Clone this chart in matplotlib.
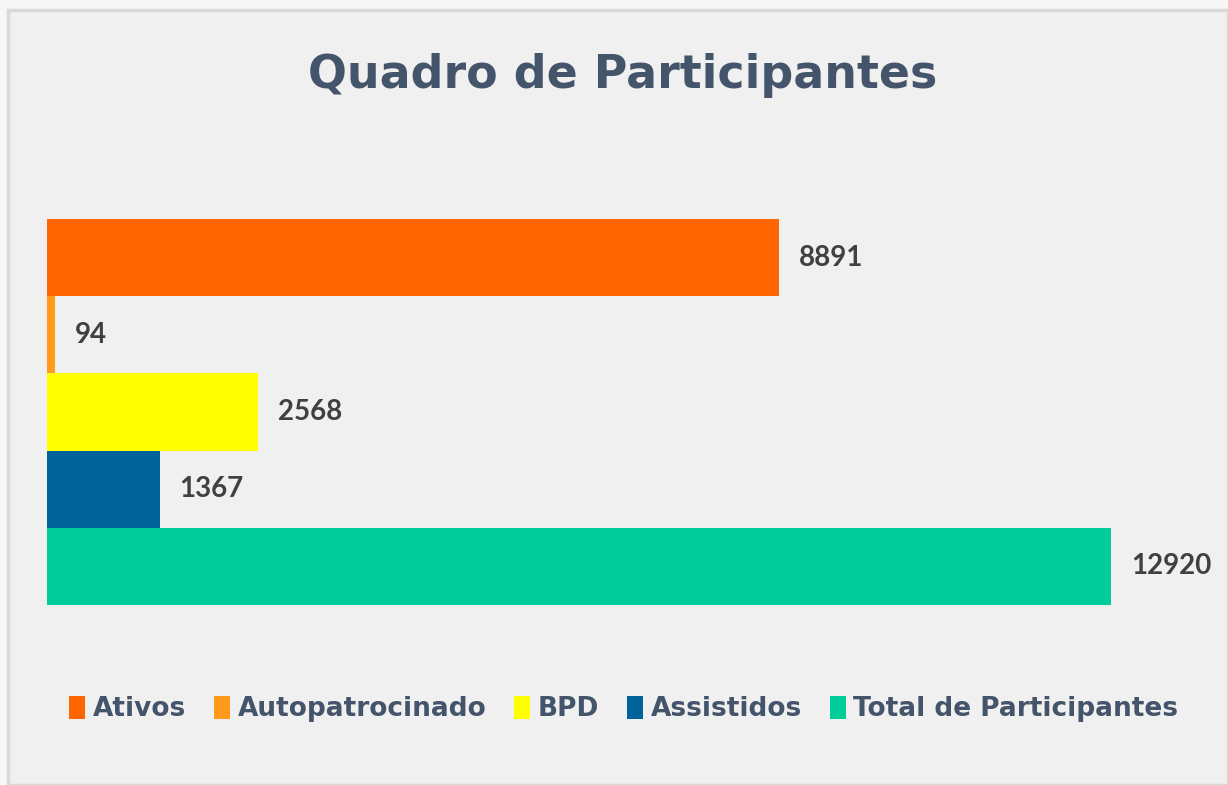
import matplotlib.pyplot as plt
from matplotlib.patches import Rectangle

# Dados do quadro
categorias = ['Ativos', 'Autopatrocinado', 'BPD', 'Assistidos', 'Total de Participantes']
valores = [8891, 94, 2568, 1367, 12920]
cores = ['#FF6600', '#FF9A1A', '#FFFF00', '#00649B', '#00CC99']

fundo = '#F0F0F0'
azul_titulo = '#44546A'

fig = plt.figure(figsize=(12.28, 7.85), dpi=100, facecolor='#F7F7F7')

# moldura do grafico
fig.patches.append(Rectangle((8 / 1228, 0), 1 - 8 / 1228, 1 - 10 / 785,
                             transform=fig.transFigure, facecolor=fundo,
                             edgecolor='#D9D9D9', linewidth=2.5, zorder=-1))

ax = fig.add_axes([47 / 1228, 1 - 605 / 785, (1200 - 47) / 1228, (605 - 219) / 785])
ax.set_facecolor('none')

for i, (cat, val, cor) in enumerate(zip(categorias, valores, cores)):
    ax.barh(i, val, height=1.0, color=cor, label=cat)
    ax.annotate(str(val), (val, i), xytext=(20, 0), textcoords='offset pixels',
                ha='left', va='center', fontsize=20, fontweight='bold',
                color='#404040', family='Lato')

ax.set_xlim(0, 14000)
ax.set_ylim(4.5, -0.5)
ax.axis('off')

fig.text(0.507, 1 - 76 / 785, 'Quadro de Participantes', ha='center', va='center',
         fontsize=33, fontweight='bold', color=azul_titulo)

leg = fig.legend(loc='center', bbox_to_anchor=(0.508, 1 - 709 / 785), ncol=5,
                 frameon=False, handlelength=0.6, handleheight=1.0,
                 handletextpad=0.3, columnspacing=1.05,
                 prop={'size': 19, 'weight': 'bold'})
for t in leg.get_texts():
    t.set_color(azul_titulo)

fig.savefig('out.png', dpi=100, facecolor=fig.get_facecolor())
